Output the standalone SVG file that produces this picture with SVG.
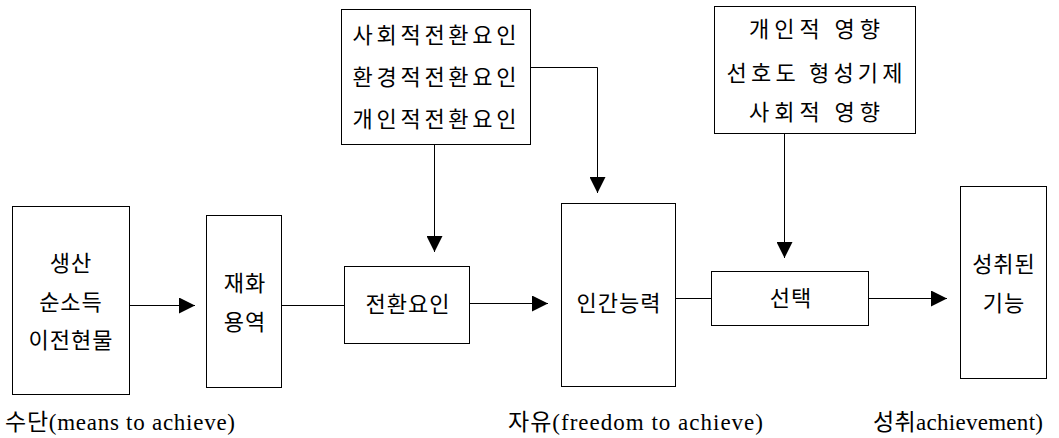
<svg xmlns="http://www.w3.org/2000/svg" width="1059" height="438" viewBox="0 0 1059 438">
<defs>
<style>
.box{fill:#fff;stroke:#000;stroke-width:1}
.t{font-family:"Noto Sans CJK KR","Liberation Serif",serif;font-size:22px;fill:#000;text-anchor:middle;letter-spacing:1px}
.lbl{font-family:"Liberation Serif","Noto Sans CJK KR",serif;font-size:23px;fill:#000}
.c{fill:none;stroke:#000;stroke-width:1}
</style>
<marker id="ah" viewBox="0 0 16 16" refX="16" refY="8" markerWidth="16" markerHeight="16" markerUnits="userSpaceOnUse" orient="auto">
<path d="M0,0 L16,8 L0,16 Z" fill="#000"/>
</marker>
</defs>
<rect width="1059" height="438" fill="#fff"/>
<g id="connectors">
<line class="c" x1="129" y1="305.5" x2="195" y2="305.5" marker-end="url(#ah)"/>
<line class="c" x1="281" y1="305.5" x2="345" y2="305.5"/>
<line class="c" x1="469" y1="303.5" x2="548" y2="303.5" marker-end="url(#ah)"/>
<line class="c" x1="434.5" y1="144" x2="434.5" y2="252" marker-end="url(#ah)"/>
<polyline class="c" points="531,67.5 597.5,67.5 597.5,193" marker-end="url(#ah)"/>
<line class="c" x1="675" y1="298.5" x2="712" y2="298.5"/>
<line class="c" x1="784.5" y1="133" x2="784.5" y2="258" marker-end="url(#ah)"/>
<line class="c" x1="868" y1="298.5" x2="947" y2="298.5" marker-end="url(#ah)"/>
</g>
<g id="means">
<rect class="box" x="12.5" y="206.5" width="117" height="188"/>
<text class="t" x="71" y="271">생산</text>
<text class="t" x="71" y="310">순소득</text>
<text class="t" x="71" y="348">이전현물</text>
</g>
<g id="goods">
<rect class="box" x="206.5" y="215.5" width="75" height="172"/>
<text class="t" x="245" y="291">재화</text>
<text class="t" x="245" y="330">용역</text>
</g>
<g id="conversion">
<rect class="box" x="344.5" y="266.5" width="125" height="77"/>
<text class="t" x="408" y="312">전환요인</text>
</g>
<g id="conversion-factors">
<rect class="box" x="341.5" y="9.5" width="189" height="135"/>
<text class="t" x="435" y="43" textLength="165" lengthAdjust="spacing">사회적전환요인</text>
<text class="t" x="435" y="85" textLength="165" lengthAdjust="spacing">환경적전환요인</text>
<text class="t" x="435" y="127" textLength="165" lengthAdjust="spacing">개인적전환요인</text>
</g>
<g id="capability">
<rect class="box" x="561.5" y="203.5" width="114" height="183"/>
<text class="t" x="619" y="311">인간능력</text>
</g>
<g id="choice-factors">
<rect class="box" x="714.5" y="6.5" width="201" height="127"/>
<text class="t" x="815" y="37" textLength="132" lengthAdjust="spacing">개인적 영향</text>
<text class="t" x="815" y="81" textLength="177" lengthAdjust="spacing">선호도 형성기제</text>
<text class="t" x="815" y="120" textLength="132" lengthAdjust="spacing">사회적 영향</text>
</g>
<g id="choice">
<rect class="box" x="711.5" y="271.5" width="157" height="54"/>
<text class="t" x="791" y="306">선택</text>
</g>
<g id="functioning">
<rect class="box" x="960.5" y="186.5" width="86" height="192"/>
<text class="t" x="1004" y="272">성취된</text>
<text class="t" x="1004" y="311">기능</text>
</g>
<g id="labels">
<text class="lbl" x="5" y="430" textLength="230" lengthAdjust="spacing">수단(means to achieve)</text>
<text class="lbl" x="508" y="430" textLength="255" lengthAdjust="spacing">자유(freedom to achieve)</text>
<text class="lbl" x="873" y="430" textLength="170" lengthAdjust="spacing">성취achievement)</text>
</g>
</svg>
